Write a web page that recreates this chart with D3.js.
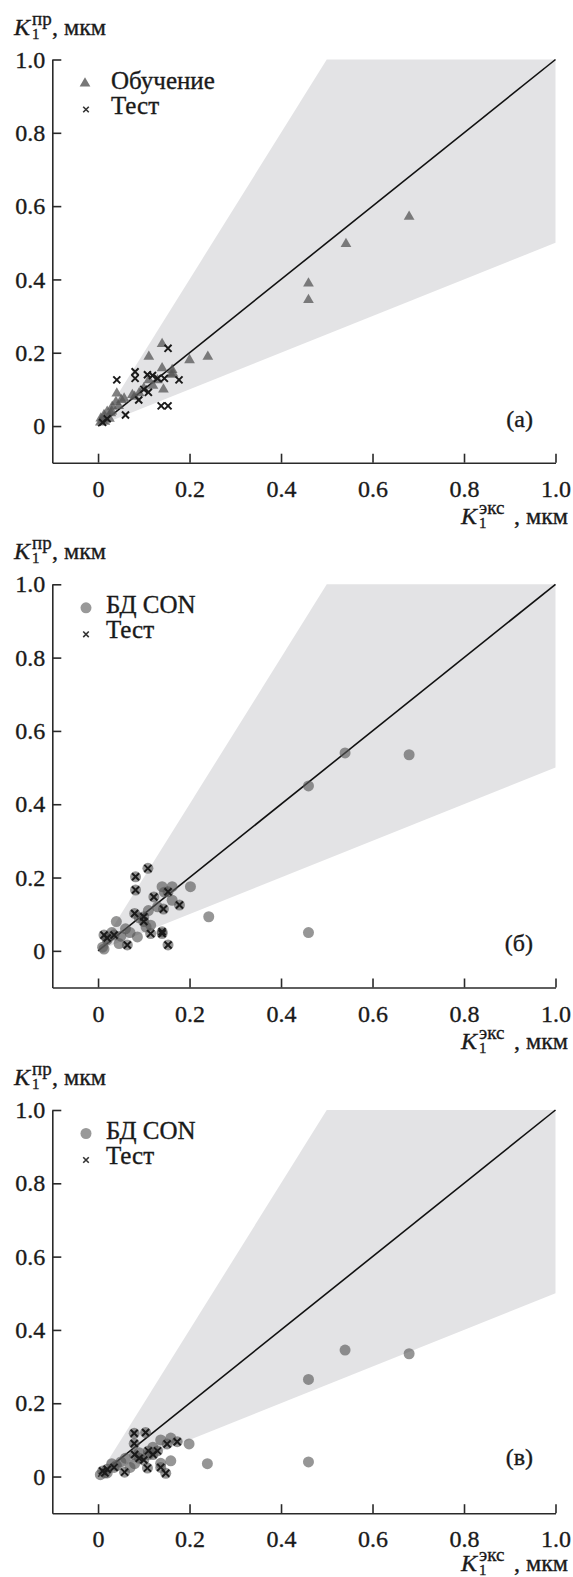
<!DOCTYPE html>
<html>
<head>
<meta charset="utf-8">
<script src="https://cdn.jsdelivr.net/npm/d3@7"></script>
<style>
  body { margin: 0; background: #fff; }
  .axis path, .axis line { stroke: #2a2a2a; stroke-width: 1.6; }
</style>
</head>
<body>
<svg width="573" height="1577" font-family="Liberation Serif"></svg>
<script>
// values, [K1 exp, K1 pred] in мкм
var trainA = [
  [0.14,0.224],[0.111,0.189],[0.20,0.18],[0.24,0.189],[0.14,0.158],[0.162,0.153],[0.164,0.143],
  [0.143,0.10],[0.111,0.125],[0.13,0.125],[0.041,0.089],[0.10,0.103],[0.09,0.09],[0.075,0.085],
  [0.057,0.075],[0.051,0.071],[0.039,0.066],[0.031,0.053],[0.02,0.039],[0.028,0.035],[0.013,0.03],
  [0.006,0.021],[0.01,0.015],[0.03,0.04],[0.045,0.055],[0.08,0.08],[0.12,0.11],[0.005,0.01],
  [0.015,0.012],[0.025,0.02],[0.16,0.14],[0.46,0.389],[0.46,0.344],[0.542,0.497],[0.68,0.571]
];
var testA = [
  [0.153,0.212],[0.041,0.126],[0.081,0.148],[0.081,0.13],[0.108,0.14],[0.119,0.138],[0.177,0.126],
  [0.138,0.055],[0.153,0.055],[0.06,0.03],[0.089,0.071],[0.10,0.10],[0.11,0.092],[0.13,0.13],
  [0.145,0.13],[0.02,0.02],[0.01,0.01]
];
var dbB = [
  [0.202,0.175],[0.242,0.093],[0.14,0.175],[0.162,0.175],[0.162,0.138],[0.04,0.08],[0.06,0.06],
  [0.086,0.038],[0.046,0.02],[0.01,0.01],[0.115,0.07],[0.07,0.05],[0.05,0.04],[0.03,0.05],
  [0.02,0.03],[0.013,0.005],[0.09,0.09],[0.11,0.11],[0.13,0.12],[0.145,0.16],[0.105,0.065],
  [0.46,0.45],[0.54,0.54],[0.68,0.535],[0.46,0.05]
];
var testB = [
  [0.109,0.225],[0.082,0.202],[0.082,0.166],[0.122,0.147],[0.153,0.161],[0.178,0.125],[0.143,0.114],
  [0.08,0.102],[0.10,0.093],[0.115,0.047],[0.14,0.047],[0.153,0.016],[0.064,0.016],[0.013,0.043],
  [0.035,0.043],[0.10,0.08],[0.02,0.035],[0.14,0.052]
];
var dbC = [
  [0.199,0.089],[0.159,0.105],[0.137,0.10],[0.239,0.035],[0.159,0.043],[0.137,0.036],[0.07,0.025],
  [0.05,0.04],[0.06,0.05],[0.09,0.065],[0.11,0.06],[0.04,0.03],[0.03,0.035],[0.005,0.005],
  [0.02,0.01],[0.12,0.08],[0.08,0.035],[0.46,0.265],[0.54,0.345],[0.68,0.335],[0.46,0.04]
];
var testC = [
  [0.079,0.118],[0.104,0.12],[0.173,0.095],[0.151,0.089],[0.079,0.09],[0.148,0.009],[0.137,0.025],
  [0.058,0.012],[0.108,0.023],[0.10,0.045],[0.12,0.06],[0.11,0.07],[0.13,0.07],[0.08,0.06],
  [0.09,0.05],[0.01,0.015],[0.02,0.02],[0.035,0.025],[0.015,0.01]
];
var xTicks = [0, 0.2, 0.4, 0.6, 0.8, 1.0];
var yTicks = [0, 0.2, 0.4, 0.6, 0.8, 1.0];
var band = [[0,0],[0.5,1],[1,1],[1,0.5]];   // ±2x zone
var diag = [[0,0],[1,1]];

var panels = [
  {tag: "(а)", shape: "tri", main: trainA, test: testA, name: "Обучение", top: 59.5, legX: 111, tagY: 1, titleY: 61},
  {tag: "(б)", shape: "circ", main: dbB, test: testB, name: "БД CON", top: 584.3, legX: 106, tagY: 0, titleY: 61},
  {tag: "(в)", shape: "circ", main: dbC, test: testC, name: "БД CON", top: 1110, legX: 106, tagY: -12, titleY: 58}
];

var FONT = "Liberation Serif";
var svg = d3.select("svg");
var x = d3.scaleLinear().domain([-0.1, 1]).range([52.3, 555.5]);
var fmt = function(d) { return d === 0 ? "0" : d3.format(".1f")(d); };

var tri = d3.symbol(d3.symbolTriangle, 50);
var cross = d3.symbol(d3.symbolX, 34);

function txt(sel, size) {
  return sel.attr("font-family", FONT).attr("font-size", size).attr("fill", "#1a1a1a")
    .attr("stroke", "#1a1a1a").attr("stroke-width", 0.35);
}

// K with sub 1 and a superscript, then ", мкм"; offsets fixed (no text measuring)
function title(g, px, py, sup, supW) {
  var t = g.append("g").attr("transform", "translate(" + px + "," + py + ")");
  txt(t.append("text"), 24).attr("font-style", "italic").text("K");
  txt(t.append("text"), 15).attr("x", 18).attr("y", 4).text("1");
  txt(t.append("text"), 19).attr("x", 18).attr("y", -10).text(sup);
  txt(t.append("text"), 24).attr("x", 18 + supW).text(", мкм");
}

panels.forEach(function(p) {
  var y = d3.scaleLinear().domain([-0.1, 1]).range([p.top + 403.2, p.top]);
  var g = svg.append("g");
  var line = d3.line().x(function(d) { return x(d[0]); }).y(function(d) { return y(d[1]); });

  g.append("path").attr("d", line(band) + "Z").attr("fill", "#e3e3e5");
  g.append("path").attr("d", line(diag)).attr("stroke", "#111").attr("stroke-width", 1.6).attr("fill", "none");

  var ya = g.append("g").attr("class", "axis")
    .attr("transform", "translate(" + x(-0.1) + ",0)")
    .call(d3.axisLeft(y).tickValues(yTicks).tickFormat(fmt).tickSizeInner(-9).tickSizeOuter(0).tickPadding(7));
  var xa = g.append("g").attr("class", "axis")
    .attr("transform", "translate(0," + y(-0.1) + ")")
    .call(d3.axisBottom(x).tickValues(xTicks).tickFormat(fmt).tickSizeInner(-9).tickSizeOuter(0).tickPadding(17));
  txt(ya.selectAll("text"), 24);
  txt(xa.selectAll("text"), 24);

  var all = p.shape === "tri" ? p.main : p.main.concat(p.test);
  if (p.shape === "tri") {
    g.append("g").selectAll("path").data(all).enter().append("path")
      .attr("d", tri)
      .attr("transform", function(d) { return "translate(" + x(d[0]) + "," + y(d[1]) + ")"; })
      .attr("fill", "#555").attr("fill-opacity", 0.75);
  } else {
    g.append("g").selectAll("circle").data(all).enter().append("circle")
      .attr("cx", function(d) { return x(d[0]); })
      .attr("cy", function(d) { return y(d[1]); })
      .attr("r", 5.5)
      .attr("fill", "#555").attr("fill-opacity", 0.62);
  }
  g.append("g").selectAll("path").data(p.test).enter().append("path")
    .attr("d", cross)
    .attr("transform", function(d) { return "translate(" + x(d[0]) + "," + y(d[1]) + ")"; })
    .attr("fill", "none").attr("stroke", "#1a1a1a").attr("stroke-width", 2);

  // legend
  var lg = g.append("g");
  if (p.shape === "tri") {
    lg.append("path").attr("d", tri).attr("transform", "translate(85," + (p.top + 24) + ")").attr("fill", "#777");
  } else {
    lg.append("circle").attr("cx", 86).attr("cy", p.top + 23.5).attr("r", 5.5).attr("fill", "#999");
  }
  lg.append("path").attr("d", d3.symbol(d3.symbolX, 22)).attr("transform", "translate(86," + (p.top + 50) + ")")
    .attr("fill", "none").attr("stroke", "#333").attr("stroke-width", 1.6);
  txt(lg.append("text"), 25).attr("x", p.legX).attr("y", p.top + 29).text(p.name);
  txt(lg.append("text"), 25).attr("x", p.legX).attr("y", p.top + 54).text("Тест");

  txt(g.append("text"), 24).attr("x", 533).attr("y", y(0) + p.tagY).attr("text-anchor", "end").text(p.tag);

  title(g, 14, p.top - 25, "пр", 20);
  title(g, 461, y(-0.1) + p.titleY, "экс", 35);
});
</script>
</body>
</html>
